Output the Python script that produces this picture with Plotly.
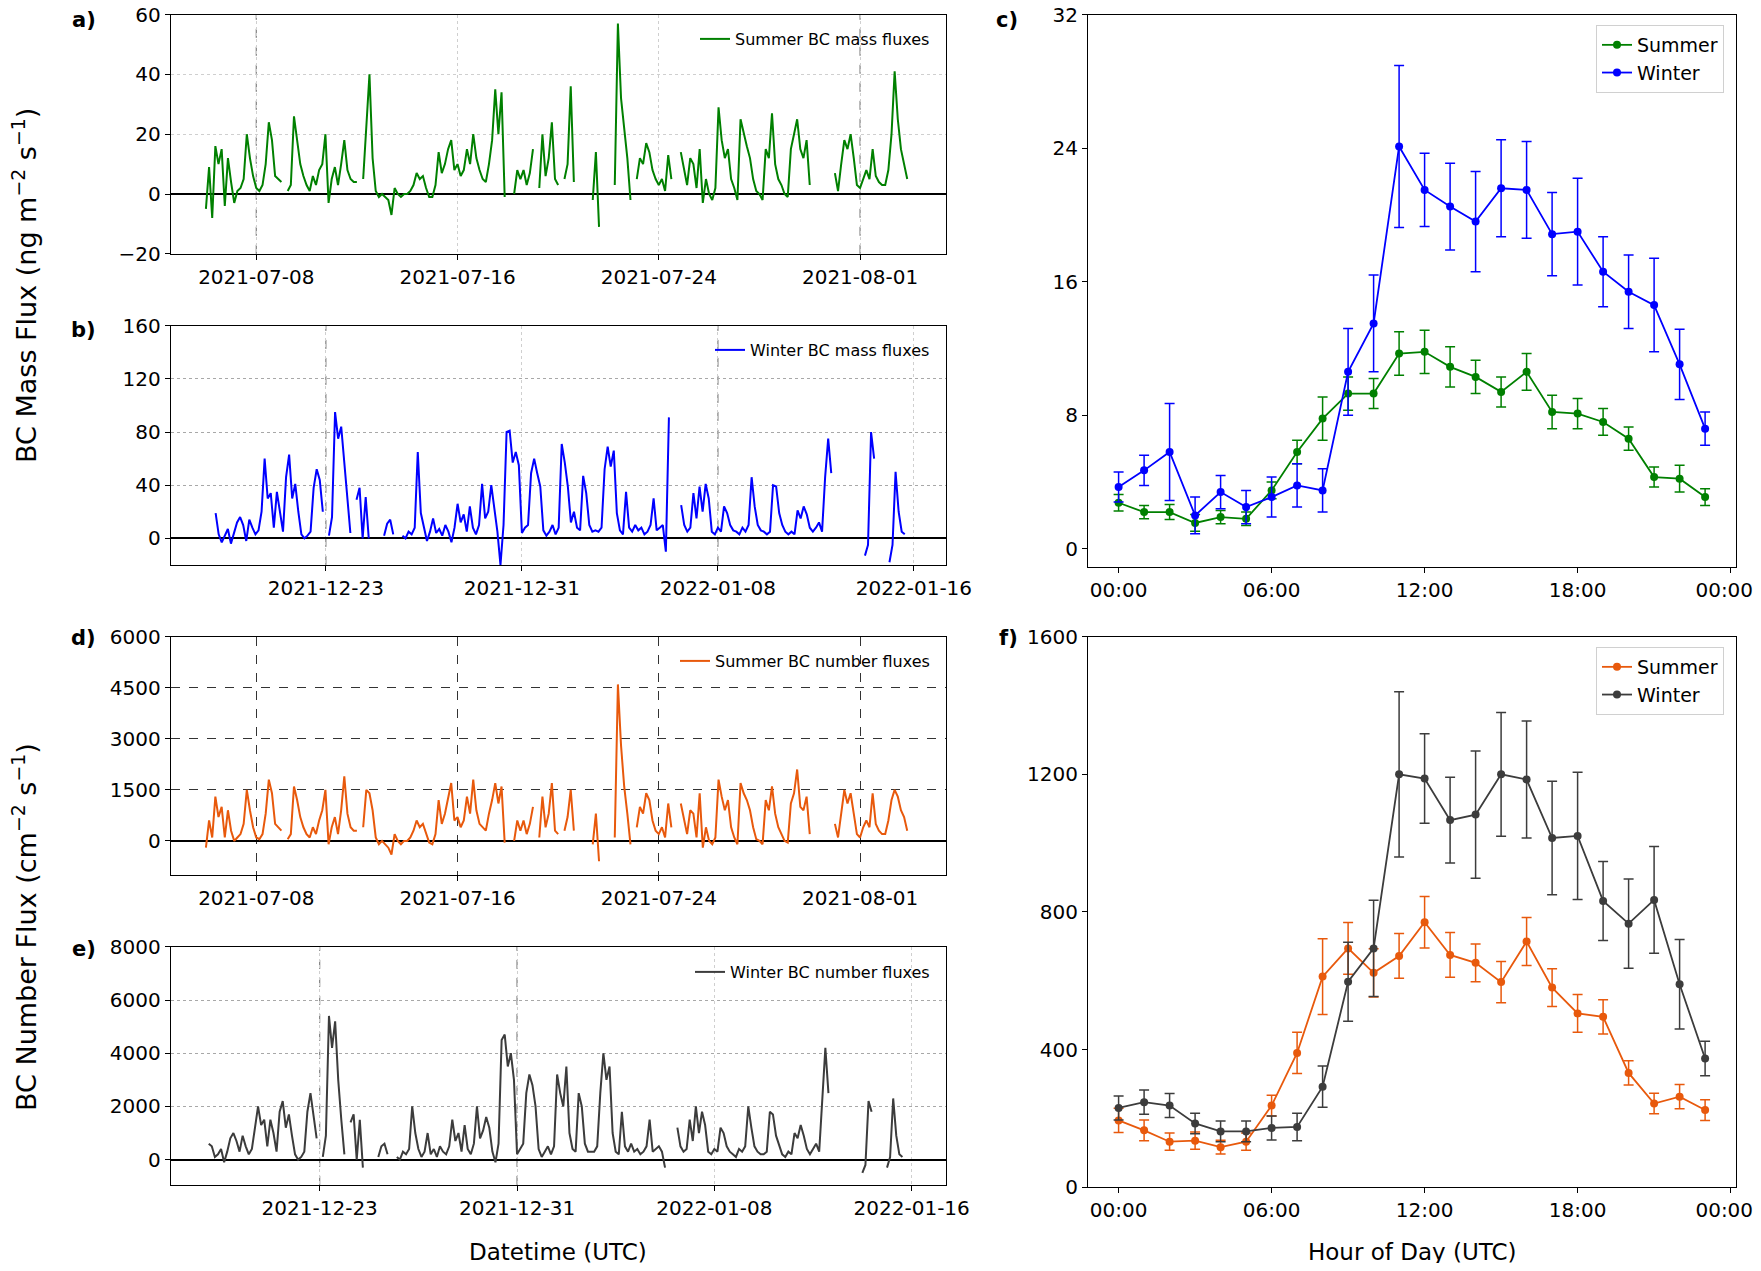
import pandas as pd
import plotly.graph_objects as go

# ---------------- time series (3-hourly, one row per day: 00,03,...,21 UTC) ----------------
summer_mass = [
    -5, 9, -8, 16, 10, 15, -4, 12,          # 07-06
    4, -3, 1, 2, 5, 20, 12, 6,              # 07-07
    2, 1, 3, 10, 24, 18, 6, 5,              # 07-08
    4, None, 1, 3, 26, 17, 10, 6,           # 07-09
    3, 1, 6, 3, 8, 10, 20, -3,              # 07-10
    5, 9, 3, 10, 18, 8, 5, 4,               # 07-11
    4, None, 5, 22, 40, 12, 1, -1,          # 07-12
    0, -1, -2, -7, 2, 0, -1, 0,             # 07-13
    0, 1, 3, 7, 5, 6, 2, -1,                # 07-14
    -1, 3, 14, 7, 10, 15, 18, 8,            # 07-15
    10, 6, 8, 15, 10, 20, 12, 8,            # 07-16
    5, 4, 10, 18, 35, 20, 34, -1,           # 07-17
    None, None, 0, 8, 5, 8, 3, 7,           # 07-18
    15, None, 2, 20, 6, 12, 24, 5,          # 07-19
    3, None, 5, 10, 36, 4, None, None,      # 07-20
    None, None, None, -2, 14, -11, None, None,  # 07-21
    None, None, 3, 57, 32, 22, 12, -2,      # 07-22
    None, 5, 12, 10, 17, 14, 8, 5,          # 07-23
    3, 5, 1, 13, 5, None, None, 14,         # 07-24
    8, 3, 12, 10, 2, 15, -3, 5,             # 07-25
    0, -2, 2, 29, 18, 12, 15, 5,            # 07-26
    2, -2, 25, 20, 16, 12, 5, 1,            # 07-27
    0, -2, 15, 12, 27, 10, 5, 3,            # 07-28
    0, -1, 15, 20, 25, 15, 12, 18,          # 07-29
    3, None, None, None, None, None, None, None,  # 07-30
    7, 1, 10, 18, 15, 20, 12, 3,            # 07-31
    2, 5, 8, 5, 15, 6, 4, 3,                # 08-01
    3, 8, 20, 41, 25, 15, 10, 5,            # 08-02
]

summer_number = [
    -200, 600, 100, 1300, 700, 1000, 100, 900,
    300, 0, 100, 200, 500, 1500, 900, 400,
    100, 50, 200, 800, 1800, 1400, 500, 400,
    300, None, 50, 200, 1600, 1200, 700, 400,
    200, 100, 400, 200, 600, 900, 1500, -100,
    400, 700, 200, 900, 1900, 800, 400, 300,
    300, None, 400, 1500, 1400, 900, 100, -100,
    0, -100, -200, -400, 200, 0, -100, 0,
    0, 100, 300, 600, 400, 500, 200, -50,
    -100, 200, 1200, 500, 800, 1300, 1700, 600,
    700, 400, 600, 1300, 800, 1800, 900, 500,
    400, 300, 800, 1200, 1700, 1100, 1600, -50,
    None, None, 0, 600, 300, 600, 200, 500,
    1000, None, 100, 1300, 400, 800, 1700, 300,
    200, None, 300, 700, 1500, 300, None, None,
    None, None, None, -100, 800, -600, None, None,
    None, None, 100, 4600, 2800, 1600, 800, -100,
    None, 400, 1000, 800, 1400, 1200, 600, 300,
    200, 400, 100, 1100, 400, None, None, 1100,
    600, 200, 900, 800, 100, 1400, -200, 400,
    0, -100, 100, 1800, 1300, 900, 1200, 400,
    100, -100, 1700, 1400, 1200, 900, 400, 50,
    0, -100, 1200, 900, 1600, 800, 400, 200,
    0, -50, 1100, 1400, 2100, 1000, 900, 1300,
    200, None, None, None, None, None, None, None,
    500, 100, 800, 1500, 1100, 1400, 800, 200,
    100, 400, 600, 400, 1400, 500, 300, 200,
    200, 600, 1200, 1500, 1300, 900, 700, 300,
]

winter_mass = [
    None, None, None, None, 19, 3, -3, 2,   # 12-18
    7, -4, 5, 12, 16, 10, -2, 14,           # 12-19
    8, 3, 6, 20, 60, 30, 34, 8,             # 12-20
    35, 20, 5, 46, 63, 30, 41, 20,          # 12-21
    3, 0, 2, 5, 38, 52, 44, 20,             # 12-22
    None, 2, 16, 95, 75, 84, 55, 31,        # 12-23
    4, None, 29, 38, 0, 31, 0, None,        # 12-24
    None, None, None, 2, 11, 14, 3, None,   # 12-25
    None, 2, 0, 5, 3, 8, 65, 19,            # 12-26
    8, -2, 5, 15, 4, 7, 2, 10,              # 12-27
    5, -3, 8, 26, 12, 18, 5, 24,            # 12-28
    8, 3, 10, 41, 15, 20, 40, 24,           # 12-29
    5, -20, 10, 80, 81, 57, 65, 55,         # 12-30
    4, 8, 10, 49, 60, 49, 39, 6,            # 12-31
    2, 5, 10, 3, 8, 71, 57, 39,             # 01-01
    12, 20, 8, 6, 47, 34, 10, 5,            # 01-02
    6, 5, 8, 52, 69, 54, 66, 19,            # 01-03
    6, 3, 35, 8, 5, 10, 6, 8,               # 01-04
    3, 5, 10, 30, 6, 8, 10, -10,            # 01-05
    91, None, None, None, 25, 10, 5, 8,     # 01-06
    34, 15, 39, 20, 41, 30, 5, 3,           # 01-07
    8, 5, 24, 19, 10, 6, 5, 3,              # 01-08
    8, 5, 10, 46, 24, 10, 6, 5,             # 01-09
    3, 5, 40, 39, 19, 10, 5, 3,             # 01-10
    5, 3, 21, 15, 24, 18, 8, 5,             # 01-11
    8, 12, 5, 46, 75, 49, None, None,       # 01-12
    None, None, None, None, None, None, None, None,  # 01-13
    -13, -5, 80, 60, None, None, None, None,  # 01-14
    -18, -5, 50, 20, 5, 3, None, None,      # 01-15
]

winter_number = [
    None, None, None, None, 600, 500, 100, 200,
    400, -100, 300, 800, 1000, 700, 300, 900,
    500, 200, 400, 1200, 2000, 1300, 1500, 500,
    1500, 1000, 300, 1800, 2200, 1200, 1700, 900,
    200, 0, 100, 300, 1800, 2500, 1700, 800,
    None, 100, 900, 5400, 4200, 5200, 3000, 1500,
    200, None, 1400, 1700, 0, 1500, -300, None,
    None, None, None, 100, 500, 600, 200, None,
    None, 100, 0, 300, 200, 400, 2000, 1000,
    400, 100, 300, 1000, 200, 400, 100, 500,
    300, 200, 500, 1500, 700, 1000, 300, 1300,
    400, 200, 600, 2000, 800, 1100, 1600, 1200,
    300, -100, 600, 4500, 4700, 3500, 4000, 3000,
    200, 400, 600, 2500, 3200, 2800, 2000, 400,
    100, 300, 500, 200, 500, 3200, 2500, 2000,
    3500, 1000, 400, 300, 2500, 2000, 600, 300,
    300, 300, 500, 2500, 4000, 3000, 3500, 1000,
    300, 200, 1800, 500, 300, 600, 300, 400,
    200, 300, 500, 1500, 300, 400, 500, 300,
    -300, None, None, None, 1200, 500, 300, 400,
    1500, 700, 2000, 1000, 1800, 1300, 300, 200,
    400, 300, 1200, 1000, 500, 300, 200, 100,
    400, 300, 500, 2000, 1200, 500, 300, 200,
    200, 300, 1800, 1700, 900, 500, 200, 100,
    300, 200, 1000, 800, 1300, 900, 400, 200,
    400, 600, 300, 2200, 4200, 2500, None, None,
    None, None, None, None, None, None, None, None,
    -500, -200, 2200, 1800, None, None, None, None,
    -300, 100, 2300, 900, 200, 100, None, None,
]

# ---------------- diurnal means and error bars ----------------
hours = list(range(24))
summer_mass_mean = [2.76, 2.2, 2.2, 1.55, 1.9, 1.8, 3.5, 5.8, 7.8, 9.3, 9.3, 11.7,
                    11.8, 10.9, 10.3, 9.4, 10.6, 8.2, 8.1, 7.6, 6.6, 4.3, 4.2, 3.1]
summer_mass_err = [0.5, 0.4, 0.45, 0.5, 0.4, 0.4, 0.5, 0.7, 1.3, 1.0, 0.9, 1.3,
                   1.3, 1.2, 1.0, 0.9, 1.1, 1.0, 0.9, 0.8, 0.7, 0.6, 0.8, 0.5]
winter_mass_mean = [3.7, 4.7, 5.8, 2.0, 3.4, 2.5, 3.1, 3.8, 3.5, 10.6, 13.5, 24.1,
                    21.5, 20.5, 19.6, 21.6, 21.5, 18.85, 19.0, 16.6, 15.4, 14.6, 11.05, 7.2]
winter_mass_err = [0.9, 0.9, 2.9, 1.1, 1.0, 1.0, 1.2, 1.3, 1.3, 2.6, 2.9, 4.85,
                   2.2, 2.6, 3.0, 2.9, 2.9, 2.5, 3.2, 2.1, 2.2, 2.8, 2.1, 1.0]

summer_num_mean = [194, 165, 132, 135, 116, 132, 237, 390, 612, 694, 623, 672,
                   770, 675, 652, 596, 714, 580, 505, 495, 332, 243, 263, 224]
summer_num_err = [35, 30, 25, 25, 20, 25, 30, 60, 110, 75, 70, 65,
                  75, 65, 55, 60, 70, 55, 55, 50, 35, 30, 35, 30]
winter_num_mean = [230, 247, 237, 185, 162, 162, 172, 175, 292, 597, 694, 1200,
                   1188, 1067, 1083, 1200, 1185, 1015, 1021, 832, 766, 835, 590, 374]
winter_num_err = [35, 35, 35, 30, 30, 30, 35, 40, 60, 115, 140, 240,
                  130, 125, 185, 180, 170, 165, 185, 115, 130, 155, 130, 50]

hour_ticks = [0, 6, 12, 18, 24]
# the last label carries two no-break spaces so it stays inside the page edge
hour_labels = ["00:00", "06:00", "12:00", "18:00", "00:00\u00a0\u00a0"]

summer_time = pd.date_range("2021-07-06 00:00", periods=len(summer_mass), freq="3h")
winter_time = pd.date_range("2021-12-18 00:00", periods=len(winter_mass), freq="3h")

GREEN = "#008000"
BLUE = "#0000ff"
ORANGE = "#e8590c"
DARK = "#3c3c3c"
FONT = "DejaVu Sans"

# the page puts the figure 8 px in from the window edge; size it to fit exactly
OFF = 8
W, H = 1761 - 2 * OFF, 1271 - 2 * OFF


def fx(p):
    return (p - OFF) / W


def fy(p):
    return 1 - (p - OFF) / H


fig = go.Figure()


def ts(x, y, color, name, ax, leg):
    fig.add_trace(go.Scatter(x=x, y=y, mode="lines", connectgaps=False,
                             line=dict(color=color, width=2.0), name=name,
                             showlegend=True,
                             xaxis="x" + ax, yaxis="y" + ax, legend=leg))


ts(summer_time, summer_mass, GREEN, "Summer BC mass fluxes", "", "legend")
ts(winter_time, winter_mass, BLUE, "Winter BC mass fluxes", "2", "legend2")
ts(summer_time, summer_number, ORANGE, "Summer BC number fluxes", "4", "legend4")
ts(winter_time, winter_number, DARK, "Winter BC number fluxes", "5", "legend5")


def diurnal(y, err, color, name, ax, leg):
    fig.add_trace(go.Scatter(x=hours, y=y, mode="lines+markers", name=name,
                             showlegend=True,
                             line=dict(color=color, width=1.8),
                             marker=dict(color=color, size=8),
                             error_y=dict(type="data", array=err, visible=True,
                                          color=color, thickness=1.5, width=5),
                             xaxis="x" + ax, yaxis="y" + ax, legend=leg))


diurnal(summer_mass_mean, summer_mass_err, GREEN, "Summer", "3", "legend3")
diurnal(winter_mass_mean, winter_mass_err, BLUE, "Winter", "3", "legend3")
diurnal(summer_num_mean, summer_num_err, ORANGE, "Summer", "6", "legend6")
diurnal(winter_num_mean, winter_num_err, DARK, "Winter", "6", "legend6")

# panel boxes in target (window) pixels
XL = [fx(170.7), fx(945.6)]
XR = [fx(1088.0), fx(1735.7)]
YA = [fy(253.8), fy(14.6)]
YB = [fy(564.9), fy(325.7)]
YD = [fy(874.9), fy(636.8)]
YE = [fy(1184.9), fy(946.8)]
YC = [fy(567.2), fy(14.6)]
YF = [fy(1187.1), fy(636.8)]
DAY = 86400000

base_ax = dict(showline=True, mirror=True, linecolor="black", linewidth=1,
               ticks="outside", ticklen=5, tickcolor="black",
               ticklabeloverflow="allow",
               tickfont=dict(size=20, color="black", family=FONT))


def date_x(dom, rng, tick0, anchor, gridcolor, griddash):
    d = dict(base_ax)
    d.update(domain=dom, anchor=anchor, type="date", range=rng, tick0=tick0,
             dtick=8 * DAY, tickformat="%Y-%m-%d", showgrid=True,
             gridcolor=gridcolor, griddash=griddash, gridwidth=1, zeroline=False)
    return d


def num_y(dom, rng, dtick, anchor, gridcolor, griddash):
    d = dict(base_ax)
    d.update(domain=dom, anchor=anchor, range=rng, dtick=dtick, tick0=0,
             showgrid=True, gridcolor=gridcolor, griddash=griddash, gridwidth=1,
             zeroline=True, zerolinecolor="black", zerolinewidth=1.6)
    return d


def hour_x(dom, anchor):
    d = dict(base_ax)
    d.update(domain=dom, anchor=anchor, range=[-1.2, 24.2], tickvals=hour_ticks,
             ticktext=hour_labels, showgrid=False, zeroline=False)
    return d


def plain_y(dom, rng, dtick, anchor):
    d = dict(base_ax)
    d.update(domain=dom, anchor=anchor, range=rng, dtick=dtick, tick0=0,
             showgrid=False, zeroline=False)
    return d


summer_range = ["2021-07-04 14:24", "2021-08-04 09:36"]
winter_range_b = ["2021-12-16 16:00", "2022-01-17 07:00"]
winter_range_e = ["2021-12-16 23:00", "2022-01-17 09:00"]

LIGHT = "#cfcfcf"
MID = "#a8a8a8"


def legend_left(ytop_px):
    return dict(x=fx(935), xanchor="right", y=fy(ytop_px), yanchor="top", visible=True,
                bgcolor="rgba(0,0,0,0)", borderwidth=0,
                font=dict(size=16, family=FONT, color="black"))


def legend_right(ytop_px):
    return dict(x=fx(1724), xanchor="right", y=fy(ytop_px), yanchor="top", visible=True,
                bgcolor="white", bordercolor="#d0d0d0", borderwidth=1,
                font=dict(size=19, family=FONT, color="black"))


fig.update_layout(
    width=W, height=H,
    margin=dict(l=0, r=0, t=0, b=0, autoexpand=False),
    showlegend=True,
    paper_bgcolor="white", plot_bgcolor="white",
    font=dict(family=FONT, color="black"),
    xaxis=date_x(XL, summer_range, "2021-07-08", "y", LIGHT, "dot"),
    yaxis=num_y(YA, [-20, 60], 20, "x", LIGHT, "dot"),
    xaxis2=date_x(XL, winter_range_b, "2021-12-23", "y2", LIGHT, "dot"),
    yaxis2=num_y(YB, [-20, 160], 40, "x2", MID, "dot"),
    xaxis3=hour_x(XR, "y3"),
    yaxis3=plain_y(YC, [-1.1, 32], 8, "x3"),
    xaxis4=date_x(XL, summer_range, "2021-07-08", "y4", "#333333", "dash"),
    yaxis4=num_y(YD, [-1000, 6000], 1500, "x4", "#333333", "dash"),
    xaxis5=date_x(XL, winter_range_e, "2021-12-23", "y5", LIGHT, "dot"),
    yaxis5=num_y(YE, [-950, 8000], 2000, "x5", MID, "dot"),
    xaxis6=hour_x(XR, "y6"),
    yaxis6=plain_y(YF, [0, 1600], 400, "x6"),
    legend=legend_left(22),
    legend2=legend_left(333),
    legend4=legend_left(644),
    legend5=legend_left(955),
    legend3=legend_right(25),
    legend6=legend_right(647),
)

# darker date grid lines (as in the figure)
shapes = []
for ax, dates in [("x", ["2021-07-08", "2021-08-01"]),
                  ("x2", ["2021-12-23", "2022-01-08"]),
                  ("x5", ["2021-12-23", "2021-12-31"])]:
    yref = ("y" + ax[1:]) + " domain"
    for dt in dates:
        shapes.append(dict(type="line", xref=ax, yref=yref, x0=dt, x1=dt, y0=0, y1=1,
                           line=dict(color="#666666", width=1, dash="dash"), layer="below"))
fig.update_layout(shapes=shapes)

annots = []
for txt, x, y in [("a)", 98, 20), ("b)", 98, 330), ("c)", 1020, 20),
                  ("d)", 98, 638), ("e)", 98, 949), ("f)", 1020, 638)]:
    annots.append(dict(text="<b>" + txt + "</b>", x=fx(x), y=fy(y),
                       xref="paper", yref="paper", xanchor="right", yanchor="middle",
                       showarrow=False, font=dict(size=21, family=FONT, color="black")))
annots.append(dict(text="BC Mass Flux (ng m<sup>\u22122</sup> s<sup>\u22121</sup>)",
                   x=fx(24), y=fy(286), xref="paper", yref="paper",
                   textangle=-90, showarrow=False, xanchor="center", yanchor="middle",
                   font=dict(size=27, family=FONT, color="black")))
annots.append(dict(text="BC Number Flux (cm<sup>\u22122</sup> s<sup>\u22121</sup>)",
                   x=fx(24), y=fy(927), xref="paper", yref="paper",
                   textangle=-90, showarrow=False, xanchor="center", yanchor="middle",
                   font=dict(size=27, family=FONT, color="black")))
annots.append(dict(text="Datetime (UTC)", x=fx(558), y=fy(1252),
                   xref="paper", yref="paper", showarrow=False,
                   xanchor="center", yanchor="middle",
                   font=dict(size=23, family=FONT, color="black")))
annots.append(dict(text="Hour of Day (UTC)", x=fx(1412), y=fy(1252),
                   xref="paper", yref="paper", showarrow=False,
                   xanchor="center", yanchor="middle",
                   font=dict(size=23, family=FONT, color="black")))
fig.update_layout(annotations=annots)

fig.write_html("out.html")
